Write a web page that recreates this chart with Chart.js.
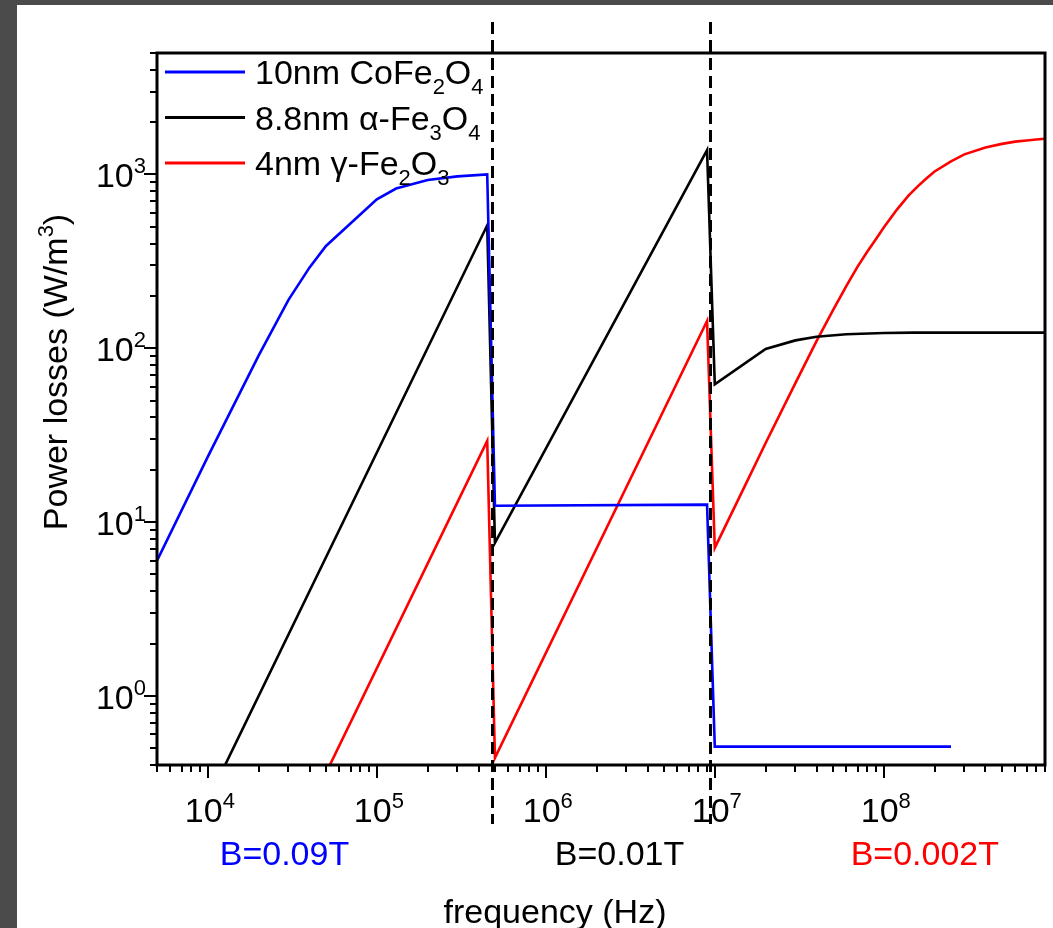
<!DOCTYPE html>
<html><head><meta charset="utf-8">
<script src="https://cdn.jsdelivr.net/npm/chart.js@4.4.1/dist/chart.umd.min.js"></script>
<style>
html,body{margin:0;padding:0;background:#4b4b4b;width:1053px;height:928px;overflow:hidden}
#wrap{position:absolute;left:17px;top:5px;width:1036px;height:923px;background:#fff}
canvas{display:block}
</style></head>
<body><div id="wrap"><canvas id="c" width="1036" height="923"></canvas></div>
<script>
// ---- data (frequency in Hz, power losses in W/m^3) ----
const coFreq  = [5e3, 1e4, 2e4, 3e4, 4e4, 5e4, 1e5, 1.3e5, 2e5, 3e5, 4.5e5, 5e5, 9e6, 1e7, 2.5e8];
const coPower = [6.0, 23.8, 91, 190, 292, 388, 720, 830, 930, 975, 1000, 12.4, 12.6, 0.51, 0.51];

const feFreq  = [1e4, 4.5e5, 5e5, 9e6, 1e7, 2e7, 3e7, 4e7, 6e7, 1e8, 1.5e8, 9e8];
const fePower = [0.25, 510, 7.6, 1380, 62, 99, 111, 116.5, 120.5, 122.5, 123, 123];

const gFreq  = [4e4, 4.5e5, 5e5, 9e6, 1e7, 1.5e7, 2e7, 3e7, 4e7, 5e7, 6e7, 7e7, 8e7, 9e7, 1e8,
                1.2e8, 1.4e8, 1.6e8, 1.8e8, 2e8, 2.5e8, 3e8, 4e8, 5e8, 6e8, 7e8, 8e8, 9e8];
const gPower = [0.23, 29.3, 0.44, 143.5, 7.1, 16, 28.5, 63, 110, 165, 228, 295, 360, 425, 495,
                630, 755, 860, 955, 1040, 1190, 1305, 1430, 1500, 1545, 1570, 1590, 1605];

const seriesNames  = ['10nm CoFe_2O_4', '8.8nm \u03b1-Fe_3O_4', '4nm \u03b3-Fe_2O_3'];
const seriesColors = ['#0000ff', '#000000', '#ff0000'];

const xTickExps = [4, 5, 6, 7, 8];
const yTickExps = [0, 1, 2, 3];
const boundaryFreqs = [4.8e5, 9.4e6];
const fieldLabels = ['B=0.09T', 'B=0.01T', 'B=0.002T'];
const fieldLabelFreqs = [2.84e4, 2.73e6, 1.75e8];
const xTitle = 'frequency (Hz)';
const yTitle = ['Power losses (W/m', '3', ')'];

const FONT = '"Liberation Sans", Arial, "DejaVu Sans", sans-serif';
const FS = 34;
const f = s => s + 'px ' + FONT;
const pts = (xs, ys) => xs.map((x, i) => ({x: x, y: ys[i]}));
const plain = s => s.replace(/_(\d)/g, (m, d) => String.fromCharCode(0x2080 + (+d)));

function richSegs(s) {
  const out = []; let buf = '';
  for (let i = 0; i < s.length; i++) {
    if (s[i] === '_') { if (buf) out.push({t: buf}); buf = ''; out.push({t: s[i + 1], sub: true}); i++; }
    else buf += s[i];
  }
  if (buf) out.push({t: buf});
  return out;
}
function drawRich(ctx, segs, x, base, size) {
  let cx = x;
  segs.forEach(sg => {
    if (sg.sub) { ctx.font = f(Math.round(size * 0.66)); ctx.fillText(sg.t, cx, base + size * 0.30); }
    else if (sg.sup) { ctx.font = f(Math.round(size * 0.66)); ctx.fillText(sg.t, cx, base - size * 0.42); }
    else { ctx.font = f(size); ctx.fillText(sg.t, cx, base); }
    cx += ctx.measureText(sg.t).width;
  });
  return cx - x;
}
function richWidth(ctx, segs, size) {
  let w = 0;
  segs.forEach(sg => { ctx.font = f(sg.sub || sg.sup ? Math.round(size * 0.66) : size); w += ctx.measureText(sg.t).width; });
  return w;
}

const decor = {
  id: 'decor',
  afterDatasetsDraw(chart) {
    const ctx = chart.ctx, a = chart.chartArea, xs = chart.scales.x, ys = chart.scales.y;
    ctx.save();
    ctx.textAlign = 'left'; ctx.textBaseline = 'alphabetic';
    // dashed boundary lines
    ctx.strokeStyle = '#000'; ctx.lineWidth = 3; ctx.setLineDash([12, 6]);
    boundaryFreqs.forEach(v => {
      const px = Math.round(xs.getPixelForValue(v)) + 0.5;
      ctx.beginPath(); ctx.moveTo(px, a.top - 31); ctx.lineTo(px, a.bottom + 59); ctx.stroke();
    });
    ctx.setLineDash([]);
    // frame
    ctx.lineWidth = 3; ctx.strokeStyle = '#000';
    ctx.strokeRect(a.left, a.top, a.right - a.left, a.bottom - a.top);
    // ticks
    ctx.lineWidth = 2;
    for (let e = 3; e <= 8; e++) for (let m = 1; m <= 9; m++) {
      const v = m * Math.pow(10, e);
      if (v < xs.min * 0.999 || v > xs.max * 1.001) continue;
      const px = Math.round(xs.getPixelForValue(v));
      const len = m === 1 ? 13 : 7;
      ctx.beginPath(); ctx.moveTo(px, a.bottom); ctx.lineTo(px, a.bottom + len); ctx.stroke();
    }
    for (let e = -1; e <= 3; e++) for (let m = 1; m <= 9; m++) {
      const v = m * Math.pow(10, e);
      if (v < ys.min * 0.999 || v > ys.max * 1.001) continue;
      const py = Math.round(ys.getPixelForValue(v));
      const len = m === 1 ? 13 : 7;
      ctx.beginPath(); ctx.moveTo(a.left, py); ctx.lineTo(a.left - len, py); ctx.stroke();
    }
    ctx.fillStyle = '#000';
    // x tick labels
    xTickExps.forEach(e => {
      const px = xs.getPixelForValue(Math.pow(10, e));
      const segs = [{t: '10'}, {t: String(e), sup: true}];
      const w = richWidth(ctx, segs, FS);
      drawRich(ctx, segs, px - w / 2 + 2, a.bottom + 57, FS);
    });
    // y tick labels
    yTickExps.forEach(e => {
      const py = ys.getPixelForValue(Math.pow(10, e));
      const segs = [{t: '10'}, {t: String(e), sup: true}];
      const w = richWidth(ctx, segs, FS);
      drawRich(ctx, segs, a.left - 11 - w, py + 13, FS);
    });
    // field labels
    ctx.textAlign = 'center';
    fieldLabels.forEach((t, i) => {
      ctx.fillStyle = seriesColors[i]; ctx.font = f(FS);
      ctx.fillText(t, xs.getPixelForValue(fieldLabelFreqs[i]), a.bottom + 100);
    });
    // x title
    ctx.fillStyle = '#000'; ctx.font = f(FS);
    ctx.fillText(xTitle, a.left + 398, a.bottom + 158);
    // y title
    ctx.textAlign = 'left';
    ctx.save();
    ctx.translate(50, (a.top + a.bottom) / 2 - 37);
    ctx.rotate(-Math.PI / 2);
    const ysegs = [{t: yTitle[0]}, {t: yTitle[1], sup: true}, {t: yTitle[2]}];
    const yw = richWidth(ctx, ysegs, FS);
    drawRich(ctx, ysegs, -yw / 2, 0, FS);
    ctx.restore();
    // legend
    seriesNames.forEach((n, i) => {
      const yy = a.top + 19 + i * 45.5;
      ctx.strokeStyle = seriesColors[i]; ctx.lineWidth = 3;
      ctx.beginPath(); ctx.moveTo(a.left + 8, yy); ctx.lineTo(a.left + 88, yy); ctx.stroke();
      ctx.fillStyle = '#000';
      drawRich(ctx, richSegs(n), a.left + 98, yy + 12, FS);
    });
    ctx.restore();
  }
};

const mk = (i, xs, ys) => ({
  label: plain(seriesNames[i]), data: pts(xs, ys), borderColor: seriesColors[i], backgroundColor: seriesColors[i],
  borderWidth: 2.6, pointRadius: 0, tension: 0, fill: false
});

new Chart(document.getElementById('c'), {
  type: 'line',
  data: { datasets: [mk(0, coFreq, coPower), mk(1, feFreq, fePower), mk(2, gFreq, gPower)] },
  options: {
    responsive: false, animation: false, devicePixelRatio: 1,
    layout: { padding: { left: 140, top: 48, right: 8, bottom: 163 } },
    plugins: { legend: { display: false }, tooltip: { enabled: false } },
    scales: {
      x: { type: 'logarithmic', min: 5e3, max: 9e8, display: false },
      y: { type: 'logarithmic', min: 0.4, max: 5000, display: false }
    }
  },
  plugins: [decor]
});
</script>
</body></html>
